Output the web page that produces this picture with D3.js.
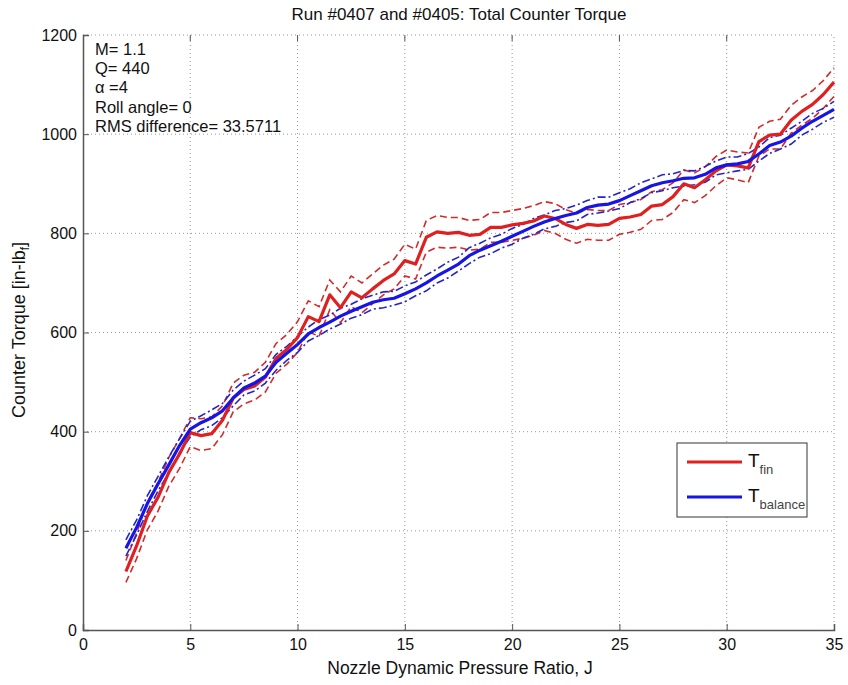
<!DOCTYPE html>
<html>
<head>
<meta charset="utf-8">
<script src="https://cdn.jsdelivr.net/npm/d3@7"></script>
<style>
  body { margin: 0; background: #fff; }
  svg text { font-family: "Liberation Sans", Arial, Helvetica, sans-serif; fill: #111; }
</style>
</head>
<body>
<svg width="848" height="685"></svg>
<script>
// Nozzle dynamic pressure ratio, J
const jValues = [2, 2.5, 3, 3.5, 4, 4.5, 5, 5.5, 6, 6.5, 7, 7.5, 8, 8.5, 9, 9.5, 10, 10.5, 11, 11.5,
  12, 12.5, 13, 13.5, 14, 14.5, 15, 15.5, 16, 16.5, 17, 17.5, 18, 18.5, 19, 19.5, 20, 20.5, 21, 21.5,
  22, 22.5, 23, 23.5, 24, 24.5, 25, 25.5, 26, 26.5, 27, 27.5, 28, 28.5, 29, 29.5, 30, 30.5, 31, 31.5,
  32, 32.5, 33, 33.5, 34, 34.5, 35];

// T_fin (red) mean and dashed bounds
const finMean = [118, 170, 230, 268, 318, 355, 398, 392, 396, 423, 468, 485, 492, 510, 548, 566, 590, 632, 622, 676,
  650, 682, 670, 688, 705, 718, 745, 738, 792, 803, 800, 802, 796, 798, 812, 812, 817, 820, 825, 835,
  830, 818, 810, 818, 816, 818, 830, 833, 838, 855, 858, 874, 900, 892, 908, 926, 938, 936, 932, 985,
  998, 1000, 1028, 1046, 1060, 1080, 1105];
const finUpper = [140, 196, 258, 298, 348, 386, 428, 426, 430, 452, 498, 514, 520, 540, 578, 596, 622, 664, 652, 706,
  682, 714, 700, 718, 736, 748, 778, 768, 826, 836, 832, 832, 826, 828, 842, 842, 846, 850, 856, 864,
  860, 848, 840, 848, 846, 846, 858, 862, 868, 884, 888, 902, 928, 922, 934, 955, 968, 964, 962, 1014,
  1026, 1030, 1058, 1075, 1088, 1108, 1134];
const finLower = [96, 144, 202, 240, 290, 326, 370, 362, 366, 394, 440, 456, 464, 480, 518, 536, 560, 602, 592, 646,
  620, 652, 640, 658, 676, 688, 714, 708, 762, 772, 770, 772, 766, 768, 782, 782, 786, 790, 796, 806,
  800, 788, 780, 788, 786, 786, 798, 802, 808, 826, 828, 842, 868, 862, 876, 896, 912, 908, 902, 956,
  970, 970, 1002, 1018, 1032, 1052, 1076];

// T_balance (blue) mean and dash-dot bounds
const balMean = [165, 207, 255, 295, 333, 372, 405, 418, 428, 442, 468, 488, 498, 512, 540, 558, 576, 597, 610, 621,
  633, 643, 652, 661, 666, 669, 678, 688, 700, 714, 726, 738, 755, 766, 775, 784, 794, 804, 814, 823,
  830, 836, 841, 852, 857, 859, 866, 876, 886, 896, 902, 906, 911, 912, 919, 932, 938, 940, 945, 960,
  977, 984, 996, 1012, 1026, 1038, 1050];
const balUpper = [182, 222, 271, 310, 349, 386, 421, 432, 444, 457, 484, 502, 514, 527, 556, 572, 592, 611, 626, 635,
  649, 657, 668, 675, 682, 683, 694, 702, 716, 728, 742, 752, 771, 780, 791, 798, 810, 818, 830, 837,
  846, 850, 857, 866, 873, 873, 882, 890, 902, 910, 918, 920, 927, 926, 935, 946, 954, 954, 961, 974,
  993, 998, 1012, 1026, 1042, 1052, 1066];
const balLower = [149, 192, 239, 281, 317, 358, 389, 404, 412, 428, 452, 474, 482, 498, 524, 544, 560, 583, 594, 607,
  617, 629, 636, 647, 650, 655, 662, 674, 684, 700, 710, 724, 739, 752, 759, 770, 778, 790, 798, 809,
  814, 822, 825, 838, 841, 845, 850, 862, 870, 882, 886, 892, 895, 898, 903, 918, 922, 926, 929, 946,
  961, 970, 980, 998, 1010, 1024, 1034];

const xTicks = [0, 5, 10, 15, 20, 25, 30, 35];
const yTicks = [0, 200, 400, 600, 800, 1000, 1200];

const annotations = ["M= 1.1", "Q= 440", "\u03b1 =4", "Roll angle= 0", "RMS difference= 33.5711"];

const svg = d3.select("svg");
const margin = { left: 83, right: 14, top: 35, bottom: 55 };
const W = 848, H = 685;
const x = d3.scaleLinear().domain([0, 35]).range([margin.left, W - margin.right]);
const y = d3.scaleLinear().domain([0, 1200]).range([H - margin.bottom, margin.top]);

// grid
const grid = svg.append("g");
grid.selectAll("line.gx").data(xTicks.slice(1, -1)).enter().append("line")
  .attr("x1", d => x(d)).attr("x2", d => x(d))
  .attr("y1", y(0)).attr("y2", y(1200))
  .attr("stroke", "#999").attr("stroke-width", 1).attr("stroke-dasharray", "1,3");
grid.selectAll("line.gy").data(yTicks.slice(1, -1)).enter().append("line")
  .attr("y1", d => y(d)).attr("y2", d => y(d))
  .attr("x1", x(0)).attr("x2", x(35))
  .attr("stroke", "#999").attr("stroke-width", 1).attr("stroke-dasharray", "1,3");
// top and right edges are dotted in the reference
grid.append("line").attr("x1", x(0)).attr("x2", x(35)).attr("y1", y(1200)).attr("y2", y(1200))
  .attr("stroke", "#999").attr("stroke-dasharray", "1,3");
grid.append("line").attr("x1", x(35)).attr("x2", x(35)).attr("y1", y(0)).attr("y2", y(1200))
  .attr("stroke", "#999").attr("stroke-dasharray", "1,3");

// axes (MATLAB style: ticks inside)
const xAxis = d3.axisBottom(x).tickValues(xTicks).tickSize(-6).tickPadding(8).tickFormat(d3.format("d"));
const yAxis = d3.axisLeft(y).tickValues(yTicks).tickSize(-6).tickPadding(6).tickFormat(d3.format("d"));

const gx = svg.append("g").attr("transform", `translate(0,${y(0)})`).call(xAxis);
const gy = svg.append("g").attr("transform", `translate(${x(0)},0)`).call(yAxis);
[gx, gy].forEach(g => {
  g.select(".domain").attr("stroke", "#555").attr("stroke-width", 1.5);
  g.selectAll(".tick line").attr("stroke", "#555");
  g.selectAll(".tick text").attr("font-size", 16)
    .attr("font-family", "Liberation Sans, Arial, sans-serif").attr("fill", "#111");
});
gx.selectAll(".tick text").attr("dy", "0.75em");
// top ticks
svg.append("g").selectAll("line").data(xTicks.slice(1, -1)).enter().append("line")
  .attr("x1", d => x(d)).attr("x2", d => x(d)).attr("y1", y(1200)).attr("y2", y(1200) + 6)
  .attr("stroke", "#555");

// lines
const line = arr => d3.line().x((d, i) => x(jValues[i])).y(d => y(d))(arr);
const plot = svg.append("g");

plot.append("path").attr("d", line(finUpper)).attr("fill", "none")
  .attr("stroke", "#d42a2a").attr("stroke-width", 1.6).attr("stroke-dasharray", "7,4");
plot.append("path").attr("d", line(finLower)).attr("fill", "none")
  .attr("stroke", "#d42a2a").attr("stroke-width", 1.6).attr("stroke-dasharray", "7,4");
plot.append("path").attr("d", line(balUpper)).attr("fill", "none")
  .attr("stroke", "#2525c8").attr("stroke-width", 1.6).attr("stroke-dasharray", "8,3,2,3");
plot.append("path").attr("d", line(balLower)).attr("fill", "none")
  .attr("stroke", "#2525c8").attr("stroke-width", 1.6).attr("stroke-dasharray", "8,3,2,3");
plot.append("path").attr("d", line(finMean)).attr("fill", "none")
  .attr("stroke", "#e01f1f").attr("stroke-width", 3.2).attr("stroke-linejoin", "round");
plot.append("path").attr("d", line(balMean)).attr("fill", "none")
  .attr("stroke", "#1515e6").attr("stroke-width", 3.2).attr("stroke-linejoin", "round");

// annotations
svg.append("g").selectAll("text").data(annotations).enter().append("text")
  .attr("x", 95).attr("y", (d, i) => [55, 74, 93, 113, 132][i])
  .attr("font-size", 16.5).text(d => d);

// title and axis labels
svg.append("text").attr("x", 459).attr("y", 20).attr("text-anchor", "middle")
  .attr("font-size", 17).text("Run #0407 and #0405: Total Counter Torque");
svg.append("text").attr("x", 460).attr("y", 674).attr("text-anchor", "middle")
  .attr("font-size", 17.5).text("Nozzle Dynamic Pressure Ratio, J");
const yl = svg.append("text").attr("transform", "translate(25,330) rotate(-90)")
  .attr("text-anchor", "middle").attr("font-size", 18);
yl.append("tspan").text("Counter Torque [in-lb");
yl.append("tspan").attr("font-size", 12).attr("dy", 4).text("f");
yl.append("tspan").attr("dy", -4).text("]");

// legend
const lg = svg.append("g");
lg.append("rect").attr("x", 677).attr("y", 443).attr("width", 130).attr("height", 74)
  .attr("fill", "#fff").attr("stroke", "#555").attr("stroke-width", 1.2);
const legendItems = [
  { main: "T", sub: "fin", color: "#e01f1f", yy: 462 },
  { main: "T", sub: "balance", color: "#1515e6", yy: 497 }
];
legendItems.forEach(it => {
  lg.append("line").attr("x1", 687).attr("x2", 742).attr("y1", it.yy).attr("y2", it.yy)
    .attr("stroke", it.color).attr("stroke-width", 3.2);
  const t = lg.append("text").attr("x", 748).attr("y", it.yy + 5).attr("font-size", 19);
  t.append("tspan").text(it.main);
  t.append("tspan").attr("font-size", 13).attr("dy", 7).attr("fill", "#444").text(it.sub);
});
</script>
</body>
</html>
